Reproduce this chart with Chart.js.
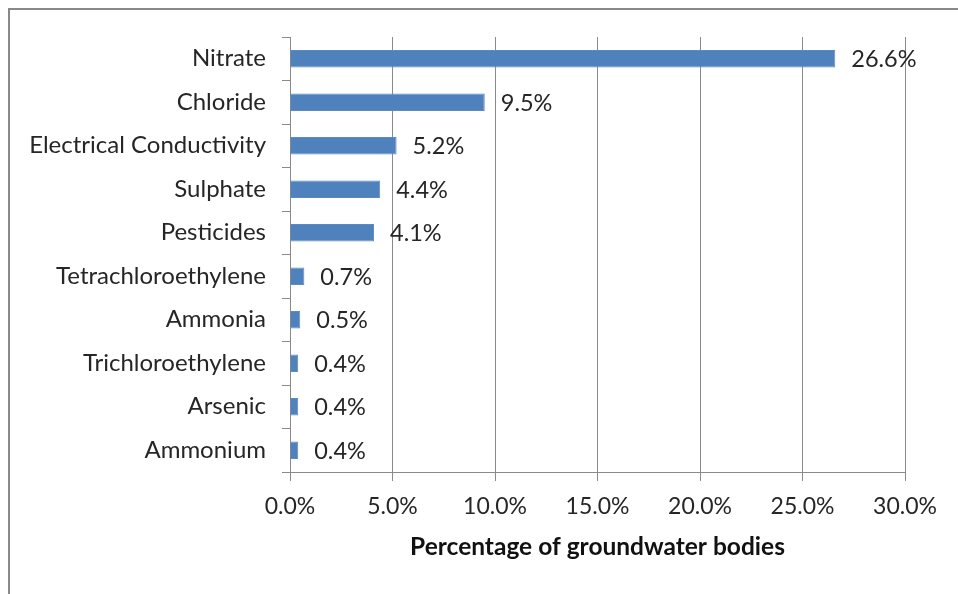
<!DOCTYPE html>
<html>
<head>
<meta charset="utf-8">
<script src="https://cdn.jsdelivr.net/npm/chart.js@4.4.1/dist/chart.umd.min.js"></script>
<style>
  html, body { margin: 0; padding: 0; background: #ffffff; }
  #wrap { width: 958px; height: 594px; position: relative; }
</style>
</head>
<body>
<div id="wrap"><canvas id="chart" width="958" height="594"></canvas></div>
<script>
// Share of groundwater bodies affected, by pollutant
const pollutants = [
  'Nitrate', 'Chloride', 'Electrical Conductivity', 'Sulphate', 'Pesticides',
  'Tetrachloroethylene', 'Ammonia', 'Trichloroethylene', 'Arsenic', 'Ammonium'
];
const percentages = [26.6, 9.5, 5.2, 4.4, 4.1, 0.7, 0.5, 0.4, 0.4, 0.4];
const axisTitle = 'Percentage of groundwater bodies';

const FONT = 'Lato, "Liberation Sans", Arial, sans-serif';
const TEXT = '#262626';
const GRID = '#8a8a8a';

// Frame lines along the top and left edge of the figure
const framePlugin = {
  id: 'frame',
  beforeDraw(chart) {
    const ctx = chart.ctx;
    ctx.save();
    ctx.strokeStyle = '#888888';
    ctx.lineWidth = 2;
    ctx.beginPath();
    ctx.moveTo(9, chart.height);
    ctx.lineTo(9, 9);
    ctx.lineTo(chart.width, 9);
    ctx.stroke();
    ctx.restore();
  }
};

// Value labels to the right of each bar
const valueLabels = {
  id: 'valueLabels',
  afterDatasetsDraw(chart) {
    const ctx = chart.ctx;
    const meta = chart.getDatasetMeta(0);
    ctx.save();
    ctx.font = '23.5px ' + FONT;
    ctx.fillStyle = TEXT;
    ctx.textAlign = 'left';
    ctx.textBaseline = 'middle';
    meta.data.forEach((bar, i) => {
      ctx.fillText(percentages[i].toFixed(1) + '%', bar.x + 16, bar.y + 1);
    });
    ctx.restore();
  }
};

new Chart(document.getElementById('chart'), {
  type: 'bar',
  data: {
    labels: pollutants,
    datasets: [{
      data: percentages,
      backgroundColor: '#4F81BD',
      borderColor: '#5b8ac4',
      borderWidth: 1,
      categoryPercentage: 1.0,
      barPercentage: 0.4
    }]
  },
  options: {
    indexAxis: 'y',
    responsive: false,
    animation: false,
    devicePixelRatio: 1,
    layout: { padding: { top: 37, right: 53, left: 0, bottom: 0 } },
    plugins: {
      legend: { display: false },
      tooltip: { enabled: false }
    },
    scales: {
      x: {
        min: 0,
        max: 30,
        ticks: {
          stepSize: 5,
          padding: 12,
          color: TEXT,
          font: { family: FONT, size: 23 },
          callback: v => v.toFixed(1) + '%'
        },
        grid: { color: GRID, lineWidth: 1, tickLength: 9, drawTicks: true },
        border: { color: GRID, width: 1 },
        title: {
          display: true,
          text: axisTitle,
          color: '#111111',
          font: { family: FONT, size: 24.5, weight: 'bold' },
          padding: { top: 0, bottom: 32 }
        },
        afterFit(scale) { scale.height = 594 - 472; }
      },
      y: {
        ticks: {
          padding: 16,
          color: TEXT,
          font: { family: FONT, size: 24 },
          autoSkip: false
        },
        grid: { offset: true, drawOnChartArea: false, color: GRID, tickLength: 8 },
        border: { color: GRID, width: 1 },
        afterFit(scale) { scale.width = 290; }
      }
    }
  },
  plugins: [framePlugin, valueLabels]
});
</script>
</body>
</html>
